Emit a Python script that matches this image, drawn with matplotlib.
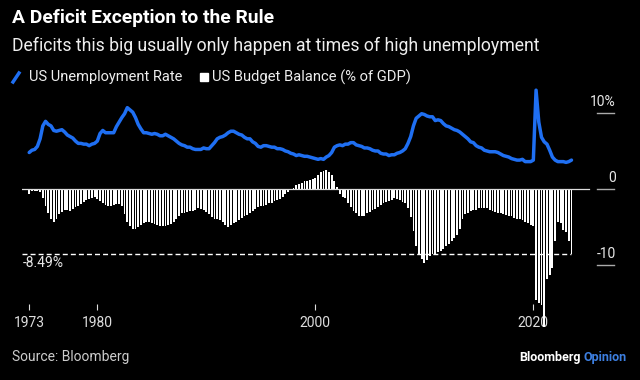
import matplotlib
matplotlib.use('Agg')
import matplotlib.pyplot as plt
import numpy as np
import pandas as pd
from matplotlib.lines import Line2D
from matplotlib.patches import Rectangle
from matplotlib.transforms import blended_transform_factory

plt.rcParams['font.family'] = ['Roboto', 'DejaVu Sans']

# quarterly data, Q4 1973 onwards
first_quarter = '1973Q4'

# US unemployment rate (%), quarterly average
unemployment = [
    4.8,
    5.1, 5.2, 5.6, 6.6,   8.3, 8.9, 8.5, 8.3,   7.7, 7.6, 7.7, 7.8,   7.5, 7.1, 6.9, 6.7,
    6.3, 6.0, 6.0, 5.9,   5.9, 5.7, 5.9, 6.0,   6.3, 7.3, 7.7, 7.4,   7.4, 7.4, 7.4, 8.2,
    8.8, 9.4, 9.9, 10.7,  10.4, 10.1, 9.4, 8.5, 7.9, 7.4, 7.4, 7.3,   7.2, 7.3, 7.2, 7.0,
    7.0, 7.2, 7.0, 6.8,   6.6, 6.3, 6.0, 5.8,   5.7, 5.5, 5.5, 5.3,   5.2, 5.2, 5.2, 5.4,
    5.3, 5.3, 5.7, 6.1,   6.6, 6.8, 6.9, 7.1,   7.4, 7.6, 7.6, 7.4,   7.2, 7.1, 6.8, 6.6,
    6.6, 6.2, 6.0, 5.6,   5.5, 5.7, 5.7, 5.6,   5.5, 5.5, 5.3, 5.3,   5.2, 5.0, 4.9, 4.7,
    4.6, 4.4, 4.5, 4.4,   4.3, 4.3, 4.2, 4.1,   4.0, 3.9, 4.0, 3.9,   4.2, 4.4, 4.8, 5.5,
    5.7, 5.8, 5.7, 5.9,   5.9, 6.1, 6.1, 5.8,   5.7, 5.6, 5.4, 5.4,   5.3, 5.1, 5.0, 5.0,
    4.7, 4.6, 4.6, 4.4,   4.5, 4.5, 4.7, 4.8,   5.0, 5.3, 6.0, 6.9,   8.3, 9.3, 9.6, 9.9,
    9.8, 9.6, 9.5, 9.5,   9.0, 9.1, 9.0, 8.6,   8.3, 8.2, 8.0, 7.8,   7.7, 7.5, 7.2, 6.9,
    6.6, 6.2, 6.1, 5.7,   5.5, 5.4, 5.1, 5.0,   4.9, 4.9, 4.9, 4.8,   4.6, 4.4, 4.3, 4.2,
    4.0, 3.9, 3.8, 3.8,   3.9, 3.6, 3.6, 3.6,   3.8, 13.0, 8.8, 6.8,  6.2, 5.9, 5.1, 4.2,
    3.8, 3.6, 3.6, 3.6,
    3.5, 3.6, 3.8,
]

# US budget balance (% of GDP), 12-month sum
budget_balance = [
    -0.7, -0.3, -0.3, -0.3, -0.4, -1.2, -2.2, -3.2, -4.0, -4.3,
    -3.9, -3.3, -3.0, -2.8, -2.8, -2.9, -2.6, -2.4, -2.2, -2.0,
    -1.7, -1.5, -1.3, -1.2, -1.1, -1.3, -1.6, -1.9, -2.1, -2.3,
    -2.2, -2.1, -2.0, -2.0, -2.3, -3.3, -4.3, -4.9, -5.2, -5.3,
    -5.0, -4.7, -4.5, -4.4, -4.4, -4.5, -4.6, -4.7, -4.9, -4.9,
    -4.9, -4.8, -4.6, -4.3, -3.9, -3.5, -3.2, -3.1, -3.0, -2.9,
    -2.85, -2.7, -2.5, -2.6, -2.7, -3.0, -3.3, -3.7, -3.9, -4.0,
    -4.1, -4.4, -4.8, -5.0, -4.7, -4.5, -4.3, -4.1, -3.8, -3.6,
    -3.4, -3.2, -2.9, -2.6, -2.4, -2.3, -2.2, -2.1, -1.9, -1.8,
    -1.6, -1.4, -1.3, -1.0, -0.7, -0.4, -0.1, 0.1, 0.5, 0.7,
    0.75, 1.0, 1.05, 1.15, 1.3, 1.5, 1.85, 2.2, 2.4, 2.45,
    2.2, 1.85, 1.1, 0.3, -0.6, -1.0, -1.2, -1.8, -2.4, -2.9,
    -3.2, -3.5, -3.6, -3.5, -3.2, -3.0, -2.8, -2.6, -2.4, -2.1,
    -1.9, -1.75, -1.6, -1.45, -1.2, -1.3, -1.4, -1.7, -1.9, -2.5,
    -3.7, -5.5, -7.5, -8.6, -9.2, -9.8, -9.3, -8.8, -8.5, -8.5,
    -8.3, -8.1, -7.9, -7.5, -7.2, -6.8, -6.5, -6.0, -5.2, -4.0,
    -3.3, -3.1, -2.9, -2.8, -2.7, -2.5, -2.45, -2.5, -2.5, -2.7,
    -2.9, -3.0, -3.1, -3.2, -3.3, -3.4, -3.5, -3.6, -3.8, -3.9,
    -4.0, -4.1, -4.3, -4.5, -4.7, -4.9,
    -14.6, -15.0, -15.3, -18.1, -11.8, -11.3, -10.4, -6.9, -4.3, -4.5,
    -5.4, -5.6, -6.9, -8.49,
]

latest_balance = -8.49
tick_years = [1973.75, 1980, 2000, 2020]
tick_labels = ['1973', '1980', '2000', '2020']
y_ticks = [10, 0, -10]
y_tick_labels = ['10%', '0', '-10']

BLUE = '#1f6ff2'
W, H = 640, 380


def quarter_years(n):
    q = pd.period_range(first_quarter, periods=n, freq='Q')
    return q.year + (q.quarter - 1) / 4


def fx(px):
    return px / W


def fy(py):
    return 1 - py / H


x_unemp = quarter_years(len(unemployment))
x_bal = quarter_years(len(budget_balance))

fig = plt.figure(figsize=(6.4, 3.8), dpi=100, facecolor='black')
ax = fig.add_axes([fx(22), fy(310), 592 / W, 225 / H])
ax.set_facecolor('black')

# bars + line
ax.bar(x_bal, budget_balance, width=0.17, color='white', linewidth=0,
       clip_on=False, zorder=2)
ax.plot(x_unemp, unemployment, color=BLUE, lw=2.5, solid_joinstyle='round',
        solid_capstyle='round', zorder=3)

ax.axhline(0, xmin=0, xmax=0.958, color='#dddddd', lw=0.9, zorder=4)
ax.axhline(latest_balance, xmin=0, xmax=0.927, color='white', lw=1.0,
           ls=(0, (3.6, 2.2)), zorder=4)
ax.text(1973.15, latest_balance - 1.3, '-8.49%', color='#e8e8e8', fontsize=10,
        ha='left', va='center')

ax.set_xlim(1973.09, 2027.4)
ax.set_ylim(-15.92, 13.68)
for s in ax.spines.values():
    s.set_visible(False)
ax.set_yticks([])
ax.set_xticks(tick_years, tick_labels)
ax.tick_params(axis='x', direction='in', length=4, width=0.8, colors='#dddddd',
               labelsize=10, pad=4)

# right hand axis labels sit above short lines
trans = blended_transform_factory(ax.transAxes, ax.transData)
for v, lab in zip(y_ticks, y_tick_labels):
    ax.plot([0.9713, 1.0], [v, v], transform=trans, color='#aaaaaa', lw=1,
            clip_on=False)
    ax.text(1.003, v + 1.5, lab, transform=trans, ha='right', va='center',
            color='#e8e8e8', fontsize=10)

# titles
fig.text(fx(12), fy(18), 'A Deficit Exception to the Rule', color='white',
         fontsize=13.9, fontweight='bold', ha='left', va='center')
fig.text(fx(12), fy(46), 'Deficits this big usually only happen at times of high unemployment',
         color='#eeeeee', fontsize=12.7, ha='left', va='center')

# legend
fig.add_artist(Line2D([fx(13), fx(19)], [fy(82), fy(73)], color=BLUE, lw=2.5,
                      transform=fig.transFigure))
fig.text(fx(29), fy(77), 'US Unemployment Rate', color='#eeeeee', fontsize=10.5,
         ha='left', va='center')
fig.add_artist(Rectangle((fx(200), fy(81)), 8 / W, 8 / H, color='white',
                         transform=fig.transFigure))
fig.text(fx(212), fy(77), 'US Budget Balance (% of GDP)', color='#eeeeee',
         fontsize=10.6, ha='left', va='center')

# footer
fig.text(fx(12), fy(357), 'Source: Bloomberg', color='#cccccc', fontsize=10,
         ha='left', va='center')
op = fig.text(fx(627), fy(357), 'Opinion', color='#3d7fe0', fontsize=9,
              fontweight='bold', ha='right', va='center')
fig.canvas.draw()
bb = op.get_window_extent()
fig.text(fx(bb.x0 - 3), fy(357), 'Bloomberg', color='white', fontsize=9,
         fontweight='bold', ha='right', va='center')

fig.savefig('out.png', dpi=100, facecolor='black')
